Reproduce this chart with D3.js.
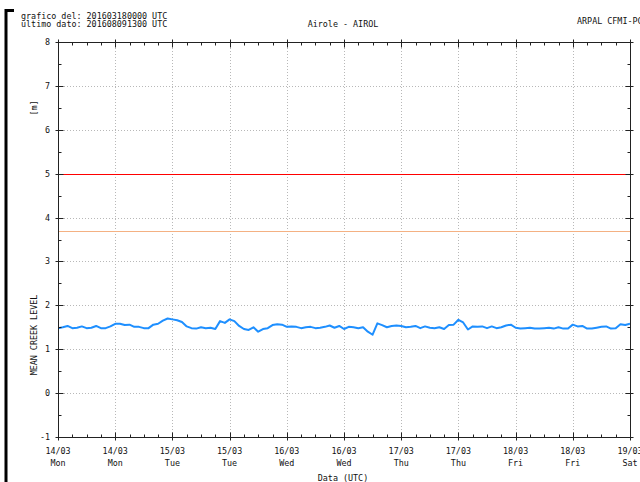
<!DOCTYPE html>
<html>
<head>
<meta charset="utf-8">
<script src="https://cdn.jsdelivr.net/npm/d3@7"></script>
<style>
  html, body { margin: 0; padding: 0; background: #fff; }
  svg { display: block; }
  text { font-family: "DejaVu Sans Mono", monospace; font-size: 8.4px; fill: #111; }
</style>
</head>
<body>
<svg id="chart" width="640" height="482"></svg>
<script>
// Hourly mean creek level [m], 14/03/2016 00:00 UTC to 19/03/2016 00:00 UTC
const startTime = "2016-03-14T00:00:00Z";
const endTime = "2016-03-19T00:00:00Z";
const levels = [
  1.48, 1.50, 1.53, 1.48, 1.49, 1.52, 1.48, 1.49, 1.53, 1.48, 1.48, 1.52,
  1.58, 1.58, 1.55, 1.56, 1.51, 1.51, 1.48, 1.48, 1.56, 1.58, 1.65, 1.70,
  1.68, 1.66, 1.62, 1.52, 1.48, 1.47, 1.50, 1.48, 1.49, 1.46, 1.64, 1.60,
  1.68, 1.64, 1.53, 1.46, 1.44, 1.50, 1.40, 1.46, 1.48, 1.55, 1.57, 1.56,
  1.51, 1.52, 1.51, 1.48, 1.50, 1.51, 1.48, 1.49, 1.51, 1.54, 1.49, 1.53,
  1.46, 1.51, 1.50, 1.48, 1.50, 1.40, 1.33, 1.59, 1.55, 1.50, 1.53, 1.54,
  1.53, 1.50, 1.51, 1.53, 1.48, 1.52, 1.49, 1.48, 1.50, 1.46, 1.55, 1.56,
  1.67, 1.61, 1.45, 1.52, 1.51, 1.52, 1.48, 1.52, 1.48, 1.50, 1.54, 1.56,
  1.49, 1.47, 1.48, 1.49, 1.47, 1.47, 1.48, 1.49, 1.47, 1.50, 1.47, 1.47,
  1.56, 1.52, 1.53, 1.47, 1.47, 1.49, 1.51, 1.52, 1.47, 1.48, 1.57, 1.55,
  1.58
];
// Threshold levels [m]
const thresholds = [
  { value: 3.7, color: "#f4b183" },
  { value: 5.0, color: "#ff0000" }
];
const yTicks = [-1, 0, 1, 2, 3, 4, 5, 6, 7, 8];
const headerLines = ["grafico del: 201603180000 UTC", "ultimo dato: 201608091300 UTC"];
const stationName = "Airole - AIROL";
const sourceName = "ARPAL CFMI-PC";
const yLabel = "MEAN CREEK LEVEL";
const yUnit = "[m]";
const xLabel = "Data (UTC)";

const svg = d3.select("#chart");
const pLeft = 58, pRight = 630, pTop = 42, pBottom = 437;

const t0 = new Date(startTime);
const series = levels.map((v, i) => ({ t: d3.utcHour.offset(t0, i), v }));

const x = d3.scaleUtc().domain([t0, new Date(endTime)]).range([pLeft, pRight]);
const y = d3.scaleLinear().domain([-1, 8]).range([pBottom, pTop]);

const majorX = d3.utcHour.every(12).range(t0, d3.utcHour.offset(new Date(endTime), 1));
const minorX = d3.utcHour.every(3).range(t0, d3.utcHour.offset(new Date(endTime), 1));
const minorY = d3.range(-1, 8.01, 0.5);

// dotted grid
const grid = svg.append("g").attr("stroke", "#b8b8b8").attr("stroke-dasharray", "1,2").attr("stroke-width", 1);
grid.selectAll("line.gx").data(majorX.slice(1, -1)).join("line")
  .attr("x1", d => Math.round(x(d)) + 0.5).attr("x2", d => Math.round(x(d)) + 0.5)
  .attr("y1", pTop).attr("y2", pBottom);
grid.selectAll("line.gy").data(yTicks.slice(1, -1)).join("line")
  .attr("y1", d => Math.round(y(d)) + 0.5).attr("y2", d => Math.round(y(d)) + 0.5)
  .attr("x1", pLeft).attr("x2", pRight);

// thresholds
svg.append("g").selectAll("line").data(thresholds).join("line")
  .attr("x1", pLeft).attr("x2", pRight)
  .attr("y1", d => Math.round(y(d.value)) + 0.5).attr("y2", d => Math.round(y(d.value)) + 0.5)
  .attr("stroke", d => d.color).attr("stroke-width", 1);

// level line
svg.append("clipPath").attr("id", "plotclip").append("rect")
  .attr("x", pLeft).attr("y", pTop).attr("width", pRight - pLeft).attr("height", pBottom - pTop);
svg.append("path").datum(series)
  .attr("clip-path", "url(#plotclip)")
  .attr("fill", "none").attr("stroke", "#1e8fff").attr("stroke-width", 2)
  .attr("stroke-linejoin", "round")
  .attr("d", d3.line().x(d => x(d.t)).y(d => y(d.v)));

// frame
svg.append("rect").attr("x", pLeft + 0.5).attr("y", pTop + 0.5)
  .attr("width", pRight - pLeft).attr("height", pBottom - pTop)
  .attr("fill", "none").attr("stroke", "#222").attr("stroke-width", 1);

// ticks on all four sides
const ticks = svg.append("g").attr("stroke", "#222").attr("stroke-width", 1);
[[pBottom, -1], [pTop, 1]].forEach(([yy, dir]) => {
  ticks.append("g").selectAll("line").data(minorX).join("line")
    .attr("x1", d => Math.round(x(d)) + 0.5).attr("x2", d => Math.round(x(d)) + 0.5)
    .attr("y1", yy + 0.5).attr("y2", yy + 0.5 + dir * 3);
  ticks.append("g").selectAll("line").data(majorX).join("line")
    .attr("x1", d => Math.round(x(d)) + 0.5).attr("x2", d => Math.round(x(d)) + 0.5)
    .attr("y1", yy + 0.5 - dir * 3).attr("y2", yy + 0.5 + dir * 5);
});
[[pLeft, 1], [pRight, -1]].forEach(([xx, dir]) => {
  ticks.append("g").selectAll("line").data(minorY).join("line")
    .attr("y1", d => Math.round(y(d)) + 0.5).attr("y2", d => Math.round(y(d)) + 0.5)
    .attr("x1", xx + 0.5).attr("x2", xx + 0.5 + dir * 3);
  ticks.append("g").selectAll("line").data(yTicks).join("line")
    .attr("y1", d => Math.round(y(d)) + 0.5).attr("y2", d => Math.round(y(d)) + 0.5)
    .attr("x1", xx + 0.5 - dir * 3).attr("x2", xx + 0.5 + dir * 5);
});

// y tick labels
svg.append("g").selectAll("text").data(yTicks).join("text")
  .attr("x", pLeft - 8).attr("y", d => y(d) + 3)
  .attr("text-anchor", "end").text(d => d);

// x tick labels
const fmtDate = d3.utcFormat("%d/%m"), fmtDay = d3.utcFormat("%a");
const xl = svg.append("g").selectAll("g").data(majorX).join("g")
  .attr("transform", d => `translate(${x(d)},0)`);
xl.append("text").attr("y", pBottom + 17).attr("text-anchor", "middle").text(d => fmtDate(d));
xl.append("text").attr("y", pBottom + 29).attr("text-anchor", "middle").text(d => fmtDay(d));

// axis titles
svg.append("text").attr("x", 343).attr("y", 481).attr("text-anchor", "middle").text(xLabel);
svg.append("text").attr("transform", "translate(37,335) rotate(-90)").attr("text-anchor", "middle").text(yLabel);
svg.append("text").attr("transform", "translate(37,108) rotate(-90)").attr("text-anchor", "middle").text(yUnit);

// header
svg.append("g").selectAll("text").data(headerLines).join("text")
  .attr("x", 21).attr("y", (d, i) => 19 + i * 8).text(d => d);
svg.append("text").attr("x", 343).attr("y", 27).attr("text-anchor", "middle").text(stationName);
svg.append("text").attr("x", 577).attr("y", 24).text(sourceName);

// page bracket
svg.append("path").attr("d", "M6,482 V10.5 H14").attr("fill", "none").attr("stroke", "#000").attr("stroke-width", 3);
</script>
</body>
</html>
